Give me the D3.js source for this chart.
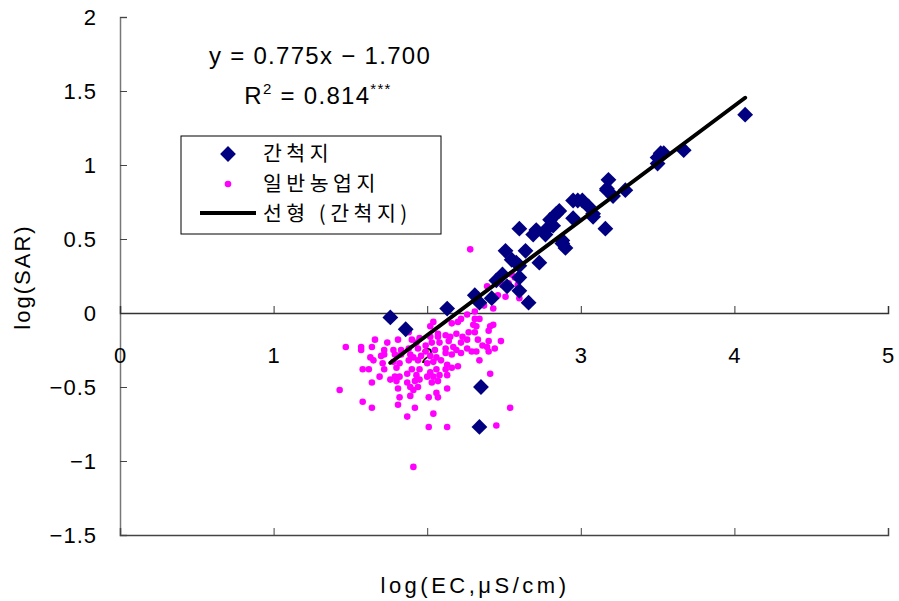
<!DOCTYPE html>
<html><head><meta charset="utf-8">
<script src="https://cdn.jsdelivr.net/npm/d3@7/dist/d3.min.js"></script>
<style>
body{margin:0;background:#fff;}
text{font-family:"Liberation Sans","DejaVu Sans",sans-serif;fill:#000;}
.kr{font-family:"Noto Sans CJK KR","Liberation Sans",sans-serif;}
</style></head>
<body><svg id="c" width="899" height="601"></svg>
<script>
// ---- data ----
const xTicks = [0, 1, 2, 3, 4, 5];
const yTicks = [2, 1.5, 1, 0.5, 0, -0.5, -1, -1.5];
const seriesNames = ["간척지", "일반농업지", "선형 (간척지)"];
const fitSlope = 0.775, fitIntercept = -1.700, fitR2 = 0.814;

const reclaimedX = [1.76,1.86,2.13,2.35,2.34,2.31,2.42,2.49,2.51,2.55,2.60,2.64,2.73,2.66,2.60,2.60,2.60,2.71,2.78,2.80,2.84,2.86,2.82,2.88,2.90,2.88,2.95,2.95,2.98,3.01,3.05,3.08,3.08,3.16,3.18,3.17,3.17,3.21,3.29,3.50,3.50,3.52,3.54,3.67,4.07,2.45,2.52,2.34,2.69,2.77,2.58];
const reclaimedY = [-0.03,-0.11,0.03,-0.50,-0.77,0.12,0.10,0.26,0.42,0.36,0.32,0.42,0.34,0.07,0.24,0.15,0.57,0.56,0.57,0.63,0.67,0.69,0.59,0.49,0.44,0.47,0.64,0.76,0.76,0.76,0.72,0.67,0.65,0.57,0.90,0.84,0.83,0.79,0.83,1.05,1.01,1.08,1.08,1.10,1.34,0.22,0.18,0.07,0.53,0.53,0.34];

const farmX = [2.04,2.02,2.07,2.16,2.20,2.22,2.26,2.31,2.34,2.37,2.43,2.30,2.32,2.41,2.43,2.40,2.19,2.27,2.31,1.88,
1.66,1.74,1.81,1.90,1.95,2.02,2.07,2.12,2.15,2.14,2.08,2.03,1.99,1.93,2.23,2.26,2.22,2.33,2.36,2.40,2.48,1.47,1.57,1.64,1.57,1.72,1.78,1.83,1.88,1.94,1.99,2.05,2.12,2.17,2.19,2.26,2.29,2.32,2.39,2.44,
1.63,1.65,1.70,1.72,1.79,1.83,1.89,1.91,1.96,2.02,2.06,2.12,2.16,2.22,1.71,1.78,1.82,1.88,1.94,2.00,2.04,2.09,2.13,2.20,2.34,2.40,
1.58,1.62,1.72,1.80,1.87,1.90,1.95,2.02,2.06,2.12,2.16,1.79,1.82,1.69,1.93,2.00,2.04,2.08,2.13,2.41,
1.64,1.76,1.80,1.87,1.92,1.95,2.03,2.07,1.89,1.94,1.81,1.91,2.06,2.13,1.43,
1.58,1.82,1.89,2.01,2.07,1.81,1.64,1.92,2.04,1.87,2.54,2.01,2.13,2.45,1.91,
2.28,2.32,2.39,2.46,2.51,2.60,2.57,2.59,2.53,2.49,2.55,2.60,2.31];
const farmY = [-0.06,-0.09,-0.14,-0.07,-0.06,-0.04,-0.01,-0.04,-0.04,0.05,0.03,-0.08,-0.09,-0.09,-0.08,-0.12,-0.14,-0.13,-0.13,-0.13,
-0.18,-0.20,-0.18,-0.18,-0.17,-0.16,-0.16,-0.15,-0.16,-0.19,-0.20,-0.20,-0.22,-0.20,-0.16,-0.18,-0.20,-0.18,-0.22,-0.19,-0.19,-0.23,-0.23,-0.23,-0.25,-0.25,-0.25,-0.25,-0.24,-0.24,-0.26,-0.25,-0.24,-0.23,-0.25,-0.24,-0.26,-0.26,-0.23,-0.24,
-0.30,-0.32,-0.29,-0.28,-0.28,-0.28,-0.28,-0.30,-0.29,-0.29,-0.30,-0.27,-0.28,-0.27,-0.34,-0.33,-0.34,-0.32,-0.32,-0.34,-0.33,-0.32,-0.35,-0.36,-0.32,-0.26,
-0.38,-0.38,-0.38,-0.37,-0.41,-0.38,-0.38,-0.40,-0.38,-0.38,-0.37,-0.43,-0.43,-0.43,-0.42,-0.43,-0.43,-0.42,-0.42,-0.41,
-0.47,-0.45,-0.46,-0.47,-0.46,-0.45,-0.47,-0.46,-0.50,-0.50,-0.51,-0.52,-0.54,-0.51,-0.52,
-0.60,-0.57,-0.56,-0.57,-0.57,-0.62,-0.64,-0.64,-0.68,-0.70,-0.64,-0.77,-0.77,-0.76,-1.04,
0.43,0.13,0.18,0.12,0.11,0.10,0.24,0.19,0.20,0.19,0.26,0.24,0.01];

// ---- chart ----
const svg = d3.select("#c");
const x = d3.scaleLinear().domain([0, 5]).range([120, 888]);
const y = d3.scaleLinear().domain([-1.5, 2]).range([535, 17]);

// y axis
const yAxis = d3.axisRight(y).tickValues(yTicks).tickSize(7).tickFormat("");
const ga = svg.append("g").attr("transform", `translate(${x(0)},0)`).call(yAxis);
ga.select(".domain").attr("stroke", "#777").attr("stroke-width", 1.5);
ga.selectAll(".tick line").attr("stroke", "#444");
svg.append("g").selectAll("text").data(yTicks).join("text")
  .attr("x", 97).attr("y", d => y(d)).attr("dy", "0.36em")
  .attr("text-anchor", "end").style("font-size", "22px").style("letter-spacing", "1px")
  .text(d => d < 0 ? "\u2212" + Math.abs(d) : d);

// x axis at y=0
const xAxis = d3.axisTop(x).tickValues(xTicks).tickSize(7).tickFormat("");
const gx = svg.append("g").attr("transform", `translate(0,${y(0)})`).call(xAxis);
gx.select(".domain").attr("stroke", "#333").attr("stroke-width", 1.5);
gx.selectAll(".tick line").attr("stroke", "#333");
svg.append("g").selectAll("text").data(xTicks).join("text")
  .attr("x", d => x(d)).attr("y", y(0) + 50).attr("text-anchor", "middle")
  .style("font-size", "22px").text(d => d);

// bottom axis line
const gb = svg.append("g").attr("transform", `translate(0,${y(-1.5)})`).call(xAxis);
gb.select(".domain").attr("stroke", "#444").attr("stroke-width", 1.5);
gb.selectAll(".tick line").attr("stroke", "#444");

// axis titles
svg.append("text").attr("x", 475).attr("y", 593).attr("text-anchor", "middle")
  .style("font-size", "22px").style("letter-spacing", "3.5px").text("log(EC,\u03bcS/cm)");
svg.append("text").attr("transform", "translate(30,277) rotate(-90)").attr("text-anchor", "middle")
  .style("font-size", "22px").style("letter-spacing", "2px").text("log(SAR)");

// farm points
svg.append("g").selectAll("circle").data(farmX.map((v, i) => [v, farmY[i]])).join("circle")
  .attr("cx", d => x(d[0])).attr("cy", d => y(d[1])).attr("r", 3.3).attr("fill", "#FF00FF");

// reclaimed diamonds
const diamond = d3.symbol().type(d3.symbolSquare).size(125);
svg.append("g").selectAll("path").data(reclaimedX.map((v, i) => [v, reclaimedY[i]])).join("path")
  .attr("d", diamond).attr("fill", "#000080")
  .attr("transform", d => `translate(${x(d[0])},${y(d[1])}) rotate(45)`);

// trend line
const xr = d3.extent(reclaimedX);
const fitPts = [xr[0], xr[1]].map(v => [v, fitSlope * v + fitIntercept]);
svg.append("path").datum(fitPts)
  .attr("d", d3.line().x(d => x(d[0])).y(d => y(d[1])))
  .attr("stroke", "#000").attr("stroke-width", 4).attr("fill", "none").attr("stroke-linecap", "round");

// equation
svg.append("text").attr("x", 320).attr("y", 64).attr("text-anchor", "middle")
  .style("font-size", "24px").style("letter-spacing", "1.3px")
  .text(`y = ${fitSlope.toFixed(3)}x \u2212 ${Math.abs(fitIntercept).toFixed(3)}`);
const r2 = svg.append("text").attr("x", 318).attr("y", 104).attr("text-anchor", "middle")
  .style("font-size", "24px").style("letter-spacing", "1.3px");
r2.append("tspan").text("R");
r2.append("tspan").attr("dy", -10).style("font-size", "15px").text("2");
r2.append("tspan").attr("dy", 10).text(` = ${fitR2.toFixed(3)}`);
r2.append("tspan").attr("dy", -10).style("font-size", "15px").text("***");

// legend
const lg = svg.append("g");
lg.append("rect").attr("x", 181).attr("y", 136).attr("width", 260).attr("height", 98)
  .attr("fill", "#fff").attr("stroke", "#000").attr("stroke-width", 1);
lg.append("path").attr("d", diamond).attr("fill", "#000080")
  .attr("transform", "translate(228,154) rotate(45)");
lg.append("circle").attr("cx", 228).attr("cy", 184).attr("r", 3.3).attr("fill", "#FF00FF");
lg.append("line").attr("x1", 200).attr("x2", 256).attr("y1", 213).attr("y2", 213)
  .attr("stroke", "#000").attr("stroke-width", 4);
lg.selectAll("text.kr").data(seriesNames).join("text").attr("class", "kr")
  .attr("x", 263).attr("y", (d, i) => 154 + i * 30).attr("dy", "0.36em")
  .style("font-size", "20.5px").style("letter-spacing", "4.5px").text(d => d);
</script></body></html>
